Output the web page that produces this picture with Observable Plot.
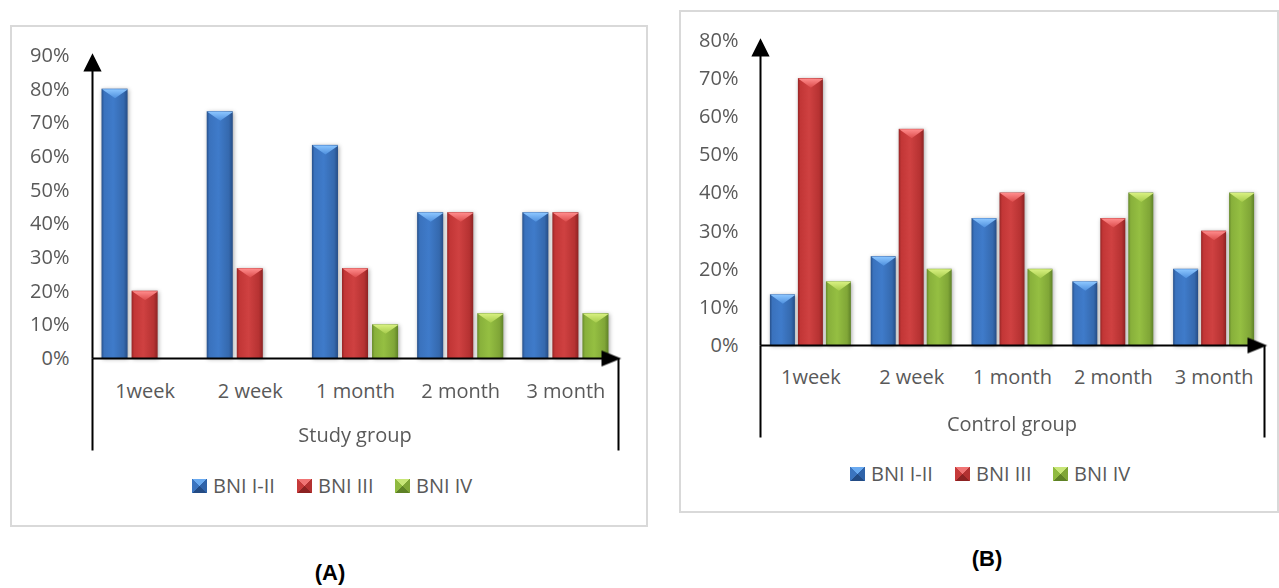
<!DOCTYPE html>
<html><head><meta charset="utf-8">
<script src="https://cdn.jsdelivr.net/npm/d3@7"></script>
<script src="https://cdn.jsdelivr.net/npm/@observablehq/plot@0.6"></script>
<style>
body{margin:0;width:1279px;height:588px;position:relative;background:#fff;overflow:hidden;font-family:"Open Sans",sans-serif;color:#595959}
.box{position:absolute;border:2px solid #d9d9d9;box-sizing:border-box}
.plot{position:absolute}
.glabel{position:absolute;text-align:center;font-size:20px;line-height:20px;white-space:nowrap}
.item{position:absolute;display:flex;align-items:center;font-size:20px;line-height:20px;white-space:nowrap}
.sw{width:15px;height:14px;margin-right:6px}
.plab{position:absolute;font-family:"Liberation Sans",Arial,sans-serif;font-weight:bold;font-size:22px;line-height:22px;color:#000;text-align:center;width:100px}
svg g[aria-label="bar"]{filter:drop-shadow(1px 1px 2px rgba(0,0,0,.35))}
</style>
</head><body>
<svg width="0" height="0" style="position:absolute">
<defs>
<linearGradient id="gBlue" x1="0" x2="1" y1="0" y2="0">
<stop offset="0" stop-color="#27508a"/><stop offset="0.1" stop-color="#3a72bd"/><stop offset="0.45" stop-color="#3f7bca"/><stop offset="0.85" stop-color="#3569ae"/><stop offset="1" stop-color="#264d86"/>
</linearGradient>
<linearGradient id="gRed" x1="0" x2="1" y1="0" y2="0">
<stop offset="0" stop-color="#952525"/><stop offset="0.1" stop-color="#c23636"/><stop offset="0.45" stop-color="#cf4141"/><stop offset="0.85" stop-color="#b63232"/><stop offset="1" stop-color="#8d2323"/>
</linearGradient>
<linearGradient id="gGreen" x1="0" x2="1" y1="0" y2="0">
<stop offset="0" stop-color="#66892a"/><stop offset="0.1" stop-color="#88b03b"/><stop offset="0.45" stop-color="#95bf42"/><stop offset="0.85" stop-color="#80a637"/><stop offset="1" stop-color="#5f8228"/>
</linearGradient>
<linearGradient id="tBlue" x1="0" x2="0" y1="0" y2="1"><stop offset="0" stop-color="#8cc6ff"/><stop offset="1" stop-color="#4f90de"/></linearGradient>
<linearGradient id="tRed" x1="0" x2="0" y1="0" y2="1"><stop offset="0" stop-color="#ff8c8c"/><stop offset="1" stop-color="#dc4c4c"/></linearGradient>
<linearGradient id="tGreen" x1="0" x2="0" y1="0" y2="1"><stop offset="0" stop-color="#d8f080"/><stop offset="1" stop-color="#a6cc4c"/></linearGradient>
</defs>
</svg>

<div class="box" style="left:10px;top:25px;width:638px;height:502px"></div>
<div class="box" style="left:679px;top:10px;width:600px;height:503px"></div>

<div id="plotA" class="plot" style="left:0;top:0;width:660px;height:470px"></div>
<div id="plotB" class="plot" style="left:660px;top:0;width:619px;height:460px"></div>

<div class="glabel" style="left:92px;width:526px;top:425px">Study group</div>
<div class="glabel" style="left:760px;width:504px;top:414px">Control group</div>

<div id="legA"></div>
<div id="legB"></div>

<div class="plab" style="left:280px;top:562px">(A)</div>
<div class="plab" style="left:937px;top:548px">(B)</div>

<script>
const categories = ["1week", "2 week", "1 month", "2 month", "3 month"];
const series = ["BNI I-II", "BNI III", "BNI IV"];

// Study group (A)
const studyBNI_I_II = [0.80, 0.733, 0.633, 0.433, 0.433];
const studyBNI_III  = [0.20, 0.267, 0.267, 0.433, 0.433];
const studyBNI_IV   = [0, 0, 0.10, 0.133, 0.133];

// Control group (B)
const controlBNI_I_II = [0.133, 0.233, 0.333, 0.167, 0.20];
const controlBNI_III  = [0.70, 0.567, 0.40, 0.333, 0.30];
const controlBNI_IV   = [0.167, 0.20, 0.20, 0.40, 0.40];

const studyTicks = [0, 0.1, 0.2, 0.3, 0.4, 0.5, 0.6, 0.7, 0.8, 0.9];
const controlTicks = [0, 0.1, 0.2, 0.3, 0.4, 0.5, 0.6, 0.7, 0.8];

const fills = {"BNI I-II": "url(#gBlue)", "BNI III": "url(#gRed)", "BNI IV": "url(#gGreen)"};
const tops = {"BNI I-II": "url(#tBlue)", "BNI III": "url(#tRed)", "BNI IV": "url(#tGreen)"};
const swatches = {
  "BNI I-II": "conic-gradient(from -45deg, #6aaaf0 0deg 90deg, #2f63a9 90deg 180deg, #234b84 180deg 270deg, #3b74bf 270deg 360deg)",
  "BNI III": "conic-gradient(from -45deg, #f07474 0deg 90deg, #b33131 90deg 180deg, #8c2222 180deg 270deg, #c63a3a 270deg 360deg)",
  "BNI IV": "conic-gradient(from -45deg, #c8e678 0deg 90deg, #7fa536 90deg 180deg, #5e8126 180deg 270deg, #8fba3f 270deg 360deg)"
};

function toRows(cols) {
  const rows = [];
  categories.forEach((c, i) => series.forEach((s, j) => {
    const v = cols[j][i];
    if (v > 0) rows.push({cat: c, series: s, value: v});
  }));
  return rows;
}

function bevel(bw, h) {
  return {draw(ctx) { ctx.moveTo(-bw / 2, 0); ctx.lineTo(bw / 2, 0); ctx.lineTo(0, h); ctx.closePath(); }};
}
function arrowShape(head, half) {
  return {draw(ctx, l) {
    ctx.moveTo(0, 0); ctx.lineTo(0, -l + head * 0.5);
    ctx.moveTo(-half, -l + head); ctx.lineTo(0, -l); ctx.lineTo(half, -l + head); ctx.closePath();
  }};
}
const plainLine = {draw(ctx, l) { ctx.moveTo(0, 0); ctx.lineTo(0, -l); }};

function panel(o) {
  const fw = o.width - o.ml - o.mr, fh = o.height - o.mt - o.mb;
  const marks = [];
  for (const s of series) {
    marks.push(Plot.barY(o.rows.filter(r => r.series === s), {fx: "cat", x: "series", y: "value", fill: fills[s]}));
  }
  for (const s of series) {
    marks.push(Plot.vector(o.rows.filter(r => r.series === s), {
      fx: "cat", x: "series", y: "value", length: 1, anchor: "start",
      shape: bevel(o.bw, 9), fill: tops[s], stroke: "none"
    }));
  }
  marks.push(Plot.axisY({ticks: o.ticks, tickFormat: d3.format(".0%"), tickSize: 0, tickPadding: o.tp, fontSize: 20, label: null}));
  marks.push(Plot.axisFx({anchor: "bottom", tickSize: 0, tickPadding: o.fp, label: null, fontSize: 20}));
  const line = {stroke: "#000", fill: "#000", strokeWidth: 2, facet: "super", anchor: "start", strokeLinejoin: "miter", strokeLinecap: "butt"};
  marks.push(Plot.vector([0], {...line, frameAnchor: "bottom-left", rotate: 0, length: fh, shape: arrowShape(15, 7.5)}));
  marks.push(Plot.vector([0], {...line, frameAnchor: "bottom-left", rotate: 90, length: fw, shape: arrowShape(16, 6.5)}));
  marks.push(Plot.vector([0], {...line, frameAnchor: "bottom-left", rotate: 180, length: o.down, shape: plainLine}));
  marks.push(Plot.vector([0], {...line, frameAnchor: "bottom-right", rotate: 180, length: o.down, shape: plainLine}));
  return Plot.plot({
    width: o.width, height: o.height,
    marginLeft: o.ml, marginRight: o.mr, marginTop: o.mt, marginBottom: o.mb,
    style: {fontFamily: "'Open Sans', sans-serif", fontSize: "20px", color: "#595959", background: "transparent", overflow: "visible"},
    fx: {domain: categories, padding: 0, round: false},
    x: {domain: series, paddingInner: o.pi, paddingOuter: o.po, round: false, axis: null},
    y: {domain: [0, o.yMax]},
    marks
  });
}

document.getElementById("plotA").append(panel({
  rows: toRows([studyBNI_I_II, studyBNI_III, studyBNI_IV]), ticks: studyTicks, yMax: 0.9,
  width: 660, height: 470, ml: 92, mr: 42, mt: 55, mb: 112, bw: 26, pi: 0.1333, po: 0.3167,
  tp: 23, fp: 25, down: 92
}));
document.getElementById("plotB").append(panel({
  rows: toRows([controlBNI_I_II, controlBNI_III, controlBNI_IV]), ticks: controlTicks, yMax: 0.8,
  width: 619, height: 460, ml: 100, mr: 15, mt: 40, mb: 115, bw: 25, pi: 0.107, po: 0.354,
  tp: 22, fp: 24, down: 92
}));

function legend(el, xs, top) {
  series.forEach((s, i) => {
    const it = document.createElement("div");
    it.className = "item";
    it.style.left = xs[i] + "px";
    it.style.top = top + "px";
    const sw = document.createElement("div");
    sw.className = "sw";
    sw.style.background = swatches[s];
    const t = document.createElement("span");
    t.textContent = s;
    it.append(sw, t);
    el.append(it);
  });
}
legend(document.getElementById("legA"), [192, 297, 395], 476);
legend(document.getElementById("legB"), [850, 955, 1053], 464);
</script>
</body></html>
